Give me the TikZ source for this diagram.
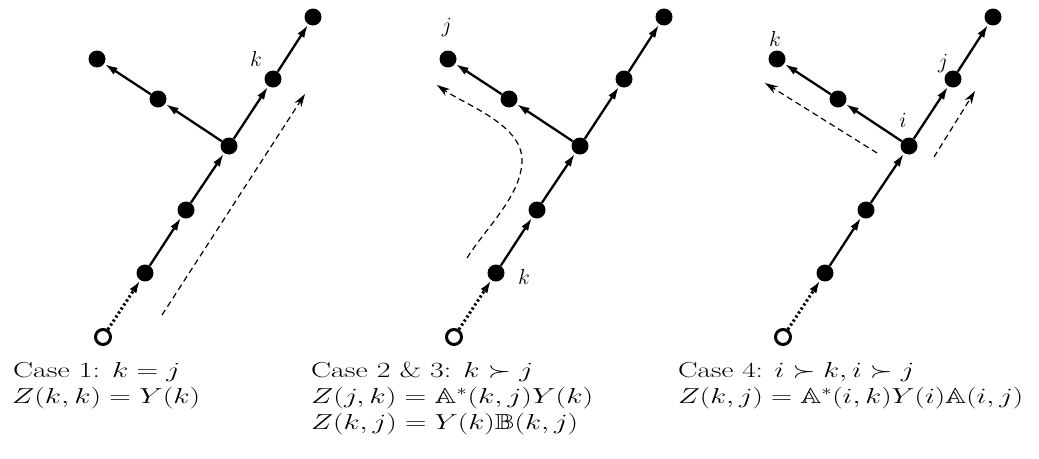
\RequirePackage{fix-cm}
\documentclass[tikz,border=0pt]{standalone}
\usepackage{amssymb}
\usepackage{graphicx}
\usetikzlibrary{arrows.meta}
\tikzset{
  blackdot/.style={circle,fill=black,inner sep=0pt,minimum size=17pt},
  rootnode/.style={circle,draw=black,line width=3pt,fill=white,inner sep=0pt,minimum size=15pt},
  solidedge/.style={line width=2.3pt,-{Latex[length=13pt,width=8pt]},shorten >=0.5pt},
  dotedge/.style={line width=3pt,dash pattern=on 2.2pt off 2.6pt,-{Latex[length=13pt,width=8pt]}},
  flowpath/.style={line width=1.2pt,dash pattern=on 6pt off 4pt,-{Stealth[length=13pt,width=8pt,inset=4pt]}},
  lbltxt/.style={inner sep=0pt,font=\fontsize{21.7}{26}\selectfont},
  captxt/.style={inner sep=0pt,anchor=base west,font=\fontsize{21.7}{26}\selectfont}
}
\newcommand{\capw}[2]{\resizebox{#1pt}{\height}{#2}}
\begin{document}
\begin{tikzpicture}[x=1pt,y=-1pt]
\useasboundingbox (0,0) rectangle (1039,458);
\foreach \p/\ox in {1/0,2/351,3/680}{
  \begin{scope}[xshift=\ox pt]
    \node[rootnode] (p\p o) at (103,337) {};
    \node[blackdot] (p\p a1) at (145,273) {};
    \node[blackdot] (p\p a2) at (186,210) {};
    \node[blackdot] (p\p a3) at (229,146) {};
    \node[blackdot] (p\p a4) at (273,79) {};
    \node[blackdot] (p\p a5) at (313,17) {};
    \node[blackdot] (p\p b1) at (158,99) {};
    \node[blackdot] (p\p b2) at (97,59) {};
    \draw[dotedge] (p\p o) -- (p\p a1);
    \draw[solidedge] (p\p a1) -- (p\p a2);
    \draw[solidedge] (p\p a2) -- (p\p a3);
    \draw[solidedge] (p\p a3) -- (p\p a4);
    \draw[solidedge] (p\p a4) -- (p\p a5);
    \draw[solidedge] (p\p a3) -- (p\p b1);
    \draw[solidedge] (p\p b1) -- (p\p b2);
  \end{scope}
}
% panel 1
\coordinate (d1s) at (162,315);
\coordinate (d1e) at (305,94);
\draw[flowpath] (d1s) -- (d1e);
\node[lbltxt] (l1k) at (256,59) {$k$};
\node[captxt] (c1a) at (13,377) {\capw{167}{Case 1: $k=j$}};
\node[captxt] (c1b) at (12,403) {\capw{188}{$Z(k,k)=Y(k)$}};
% panel 2
\coordinate (d2s) at (467,258);
\coordinate (d2m) at (522,160);
\coordinate (d2e) at (437,85);
\draw[flowpath] (d2s) to[out=58,in=-90,looseness=0.8] (d2m) to[out=90,in=-35,looseness=0.8] (d2e);
\node[lbltxt] (l2j) at (447,27) {$j$};
\node[lbltxt] (l2k) at (524,277) {$k$};
\node[captxt] (c2a) at (311,377) {\capw{222}{Case 2 \& 3: $k\succ j$}};
\node[captxt] (c2b) at (311,403) {\capw{282}{$Z(j,k)=\mathbb{A}^*(k,j)Y(k)$}};
\node[captxt] (c2c) at (311,429) {\capw{267}{$Z(k,j)=Y(k)\mathbb{B}(k,j)$}};
% panel 3
\coordinate (d3s) at (877,153);
\coordinate (d3e) at (765,83);
\coordinate (d4s) at (934,157);
\coordinate (d4e) at (975,91);
\draw[flowpath] (d3s) -- (d3e);
\draw[flowpath] (d4s) -- (d4e);
\node[lbltxt] (l3k) at (775,39) {$k$};
\node[lbltxt] (l3j) at (943,63) {$j$};
\node[lbltxt] (l3i) at (903,120) {$i$};
\node[captxt] (c3a) at (678,377) {\capw{236}{Case 4: $i\succ k, i\succ j$}};
\node[captxt] (c3b) at (678,403) {\capw{345}{$Z(k,j)=\mathbb{A}^*(i,k)Y(i)\mathbb{A}(i,j)$}};
\end{tikzpicture}
\end{document}
